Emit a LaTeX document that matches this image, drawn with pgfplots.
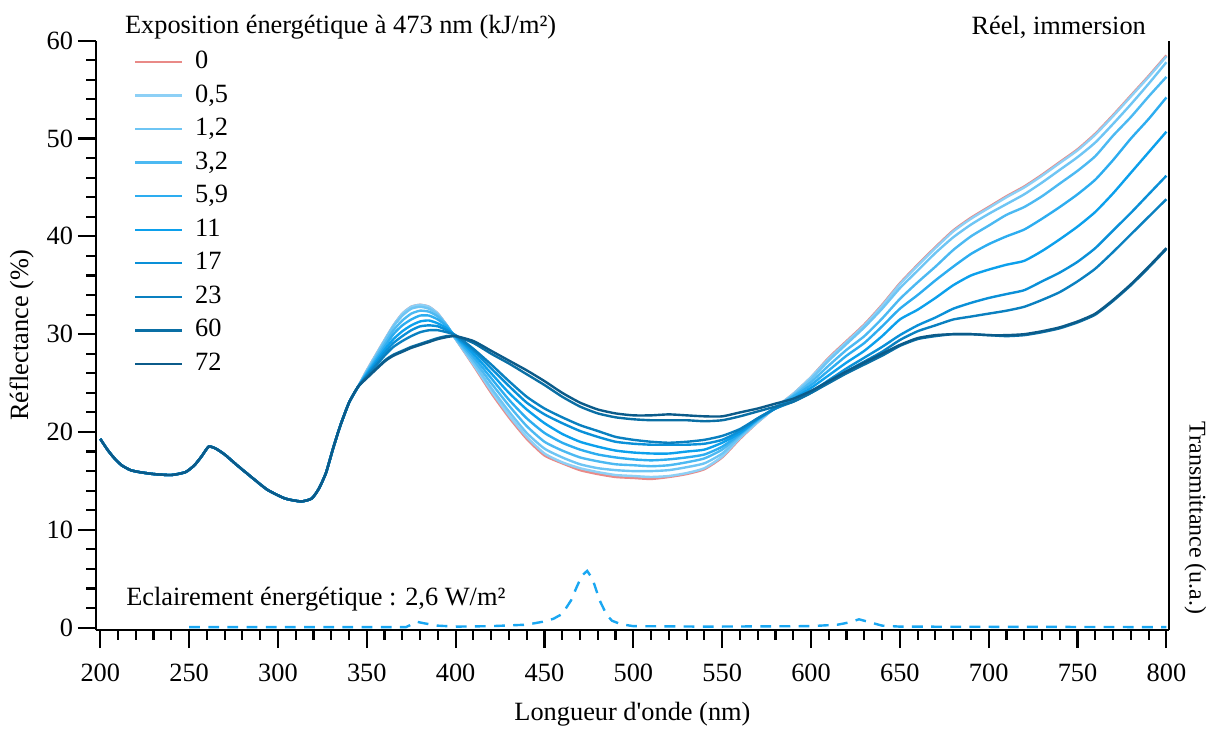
\documentclass[border=0pt]{standalone}
\usepackage{fontspec}
\setmainfont{Liberation Serif}
\usepackage{pgfplots}
\usepackage{pgfplotstable}
\pgfplotsset{compat=1.18}

\definecolor{c0}{HTML}{E98A87}
\definecolor{c05}{HTML}{8DD0F6}
\definecolor{c12}{HTML}{6EC5F4}
\definecolor{c32}{HTML}{4CB9F2}
\definecolor{c59}{HTML}{2DADF0}
\definecolor{c11}{HTML}{0CA0EC}
\definecolor{c17}{HTML}{0A90D8}
\definecolor{c23}{HTML}{0A80C0}
\definecolor{c60}{HTML}{0A6FA5}
\definecolor{c72}{HTML}{0B5B8A}
\definecolor{ctr}{HTML}{1AA7F2}

\pgfplotstableread{
x s0 s05 s12 s32 s59 s11 s17 s23 s60 s72
200 19.3 19.3 19.3 19.3 19.3 19.3 19.3 19.3 19.3 19.3
204 18.2 18.2 18.2 18.2 18.2 18.2 18.2 18.2 18.2 18.2
208 17.3 17.3 17.3 17.3 17.3 17.3 17.3 17.3 17.3 17.3
212 16.6 16.6 16.6 16.6 16.6 16.6 16.6 16.6 16.6 16.6
217 16.1 16.1 16.1 16.1 16.1 16.1 16.1 16.1 16.1 16.1
222 15.9 15.9 15.9 15.9 15.9 15.9 15.9 15.9 15.9 15.9
230 15.7 15.7 15.7 15.7 15.7 15.7 15.7 15.7 15.7 15.7
240 15.6 15.6 15.6 15.6 15.6 15.6 15.6 15.6 15.6 15.6
248 15.9 15.9 15.9 15.9 15.9 15.9 15.9 15.9 15.9 15.9
253 16.6 16.6 16.6 16.6 16.6 16.6 16.6 16.6 16.6 16.6
257 17.5 17.5 17.5 17.5 17.5 17.5 17.5 17.5 17.5 17.5
261 18.5 18.5 18.5 18.5 18.5 18.5 18.5 18.5 18.5 18.5
265 18.3 18.3 18.3 18.3 18.3 18.3 18.3 18.3 18.3 18.3
270 17.7 17.7 17.7 17.7 17.7 17.7 17.7 17.7 17.7 17.7
277 16.6 16.6 16.6 16.6 16.6 16.6 16.6 16.6 16.6 16.6
285 15.4 15.4 15.4 15.4 15.4 15.4 15.4 15.4 15.4 15.4
294 14.1 14.1 14.1 14.1 14.1 14.1 14.1 14.1 14.1 14.1
304 13.2 13.2 13.2 13.2 13.2 13.2 13.2 13.2 13.2 13.2
313 12.9 12.9 12.9 12.9 12.9 12.9 12.9 12.9 12.9 12.9
319 13.2 13.2 13.2 13.2 13.2 13.2 13.2 13.2 13.2 13.2
323 14.2 14.2 14.2 14.2 14.2 14.2 14.2 14.2 14.2 14.2
327 15.8 15.8 15.8 15.8 15.8 15.8 15.8 15.8 15.8 15.8
331 18.3 18.3 18.3 18.3 18.3 18.3 18.3 18.3 18.3 18.3
335 20.6 20.6 20.6 20.6 20.6 20.6 20.6 20.6 20.6 20.6
340 23.0 23.0 23.0 23.0 23.0 23.0 23.0 23.0 23.0 23.0
345 24.6 24.6 24.6 24.6 24.6 24.6 24.6 24.6 24.6 24.6
350 26.3 26.3 26.2 26.1 26.0 25.9 25.8 25.7 25.6 25.5
360 29.4 29.4 29.3 29.0 28.7 28.4 28.1 27.8 27.3 27.2
365 30.9 30.9 30.8 30.4 30.0 29.5 29.1 28.7 27.9 27.8
370 32.1 32.1 31.9 31.4 30.9 30.3 29.8 29.3 28.3 28.2
375 32.8 32.8 32.6 32.1 31.5 30.9 30.4 29.8 28.7 28.6
380 33.0 33.0 32.8 32.4 31.9 31.3 30.8 30.2 29.0 28.9
385 32.8 32.8 32.6 32.3 31.9 31.4 30.9 30.4 29.3 29.2
390 32.1 32.1 32.0 31.8 31.5 31.1 30.8 30.4 29.6 29.5
395 30.9 30.9 30.9 30.9 30.8 30.6 30.4 30.2 29.8 29.7
400 29.5 29.5 29.5 29.6 29.7 29.8 29.8 29.9 29.8 29.8
410 26.8 26.9 27.1 27.4 27.7 28.0 28.3 28.5 29.1 29.3
420 24.0 24.2 24.5 25.0 25.5 26.0 26.5 26.9 28.0 28.3
430 21.5 21.7 22.1 22.7 23.3 24.0 24.7 25.2 27.0 27.3
440 19.3 19.5 19.9 20.6 21.4 22.3 23.0 23.6 25.9 26.3
450 17.6 17.8 18.3 19.0 19.9 20.9 21.8 22.4 24.8 25.2
460 16.8 16.9 17.4 18.1 18.9 19.8 20.9 21.5 23.6 24.0
470 16.1 16.3 16.7 17.4 18.2 19.0 20.1 20.7 22.6 23.0
480 15.7 15.9 16.3 17.0 17.7 18.5 19.5 20.1 21.9 22.3
490 15.4 15.6 16.1 16.7 17.4 18.1 19.0 19.5 21.5 21.9
500 15.3 15.5 16.0 16.6 17.2 17.9 18.8 19.2 21.3 21.7
510 15.2 15.4 16.0 16.5 17.1 17.8 18.7 19.0 21.2 21.7
520 15.4 15.5 16.1 16.6 17.2 17.8 18.7 18.9 21.2 21.8
530 15.7 15.8 16.4 16.9 17.4 18.0 18.7 19.0 21.2 21.7
540 16.2 16.3 16.8 17.3 17.7 18.2 18.8 19.2 21.1 21.6
550 17.4 17.5 17.8 18.2 18.5 18.9 19.2 19.6 21.2 21.6
560 19.3 19.4 19.5 19.7 19.8 19.9 20.1 20.3 21.6 22.0
570 21.0 21.0 21.1 21.2 21.3 21.3 21.4 21.4 22.1 22.4
580 22.5 22.5 22.5 22.5 22.5 22.4 22.4 22.4 22.6 22.9
590 23.9 23.9 23.8 23.7 23.6 23.4 23.2 23.1 23.1 23.4
600 25.6 25.6 25.4 25.1 24.8 24.5 24.1 24.0 24.0 24.2
610 27.6 27.5 27.3 26.8 26.3 25.8 25.3 25.1 25.0 25.2
620 29.3 29.2 29.0 28.4 27.8 27.1 26.5 26.2 26.0 26.2
630 31.0 30.9 30.7 29.8 29.1 28.3 27.6 27.2 26.9 27.1
640 33.0 32.9 32.6 31.6 30.8 29.8 28.7 28.2 27.8 28.0
650 35.2 35.1 34.7 33.6 32.6 31.5 29.9 29.4 28.8 28.9
660 37.1 37.0 36.5 35.3 34.0 32.5 30.9 30.3 29.5 29.6
670 38.9 38.8 38.3 36.9 35.5 33.7 31.7 30.9 29.8 29.9
680 40.6 40.5 39.9 38.6 36.9 35.0 32.6 31.5 30.0 30.0
690 41.9 41.8 41.2 40.0 38.2 36.0 33.2 31.8 30.0 30.0
700 43.0 42.9 42.3 41.1 39.2 36.6 33.7 32.1 29.9 29.9
710 44.1 44.0 43.3 42.2 40.0 37.1 34.1 32.4 29.8 29.9
720 45.1 45.0 44.3 43.0 40.7 37.5 34.5 32.8 29.9 30.0
730 46.3 46.2 45.5 44.1 41.8 38.5 35.4 33.5 30.2 30.3
740 47.6 47.5 46.8 45.4 43.0 39.7 36.3 34.3 30.6 30.7
750 48.9 48.8 48.1 46.7 44.3 41.0 37.4 35.4 31.2 31.3
760 50.5 50.4 49.6 48.2 45.8 42.5 38.8 36.7 32.0 32.1
770 52.4 52.3 51.5 50.3 47.8 44.4 40.6 38.4 33.4 33.5
780 54.4 54.3 53.5 52.2 50.0 46.5 42.4 40.2 35.0 35.1
790 56.4 56.3 55.6 54.3 52.0 48.6 44.3 42.0 36.8 36.9
800 58.5 58.4 57.8 56.3 54.2 50.7 46.2 43.8 38.7 38.8
}\refl

\pgfplotstableread{
x t
250 0.05
372 0.05
375 0.3
378 0.6
382 0.45
390 0.2
400 0.1
420 0.15
440 0.3
449 0.6
455 0.9
460 1.4
465 2.8
468 4.1
471 5.3
474 5.8
477 5.0
481 2.8
485 1.3
488 0.7
493 0.35
500 0.15
540 0.1
600 0.15
615 0.3
622 0.55
627 0.85
633 0.55
640 0.2
650 0.1
800 0.05
}\trans

\begin{document}
\begin{tikzpicture}[font=\fontsize{11}{13.2}\selectfont]
\begin{axis}[
  scale only axis, width=448pt, height=246pt,
  xmin=197.5, xmax=801.5, ymin=-0.25, ymax=60,
  clip=false,
  axis x line*=bottom, axis y line*=left,
  axis line style={-, line width=1pt, black},
  xtick={200,250,...,800}, ytick={0,10,...,60},
  minor x tick num=4, minor y tick num=4,
  tick align=outside,
  major tick length=7.5pt, minor tick length=4pt,
  tick style={black, line width=0.9pt},
  tick label style={/pgf/number format/assume math mode=true, font=\fontsize{11}{13.2}\selectfont},
  xticklabel style={yshift=-3pt},
  yticklabel style={xshift=1.5pt},
  every axis y label/.style={at={(rel axis cs:0,0.5)}, xshift=-31pt, rotate=90, anchor=center, inner sep=0pt},
  every axis x label/.style={at={(rel axis cs:0.5,0)}, yshift=-35pt, anchor=center, inner sep=0pt},
  xlabel={Longueur d\textquotesingle onde (nm)},
  ylabel={Réflectance (\%)},
  legend cell align=left,
  legend style={at={(rel axis cs:0.035,0.988)}, anchor=north west, draw=none, fill=none,
    inner sep=0pt, row sep=2.5pt,
    nodes={text height=7.5pt, text depth=2pt, inner sep=1pt},
    /tikz/every odd column/.append style={column sep=4pt}},
  legend image code/.code={\draw[#1] (0pt,0pt) -- (19.6pt,0pt);},
  every axis plot/.append style={line width=1pt, smooth, tension=0.35},
]
\addplot[c0] table[x=x, y=s0] {\refl}; \addlegendentry{0}
\addplot[c05] table[x=x, y=s05] {\refl}; \addlegendentry{0{,}5}
\addplot[c12] table[x=x, y=s12] {\refl}; \addlegendentry{1{,}2}
\addplot[c32] table[x=x, y=s32] {\refl}; \addlegendentry{3{,}2}
\addplot[c59] table[x=x, y=s59] {\refl}; \addlegendentry{5{,}9}
\addplot[c11] table[x=x, y=s11] {\refl}; \addlegendentry{11}
\addplot[c17] table[x=x, y=s17] {\refl}; \addlegendentry{17}
\addplot[c23] table[x=x, y=s23] {\refl}; \addlegendentry{23}
\addplot[c60] table[x=x, y=s60] {\refl}; \addlegendentry{60}
\addplot[c72] table[x=x, y=s72] {\refl}; \addlegendentry{72}
\addplot[ctr, line width=1pt, sharp plot, dash pattern=on 4.5pt off 3.5pt, forget plot] table[x=x, y=t] {\trans};
\draw[line width=1pt] (rel axis cs:1,0) -- (rel axis cs:1,1);
\node[anchor=west, inner sep=0pt] at (rel axis cs:0,1) [xshift=12pt, yshift=5.5pt] {Exposition énergétique à 473 nm (kJ/m²)};
\node[anchor=east, inner sep=0pt] at (rel axis cs:1,1) [xshift=-9.5pt, yshift=5.5pt] {Réel, immersion};
\node[xshift=11pt, rotate=-90, inner sep=0pt, font=\fontsize{10}{12}\selectfont] at (rel axis cs:1,0.19) {Transmittance (u.a.)};
\node[anchor=west, inner sep=0pt] at (rel axis cs:0,0) [xshift=12.5pt, yshift=12.9pt] {Eclairement énergétique : 2,6 W/m²};
\path (rel axis cs:0,0) ++(-40pt,-42pt);
\path (rel axis cs:1,1) ++(17.5pt,17pt);
\end{axis}
\end{tikzpicture}
\end{document}
